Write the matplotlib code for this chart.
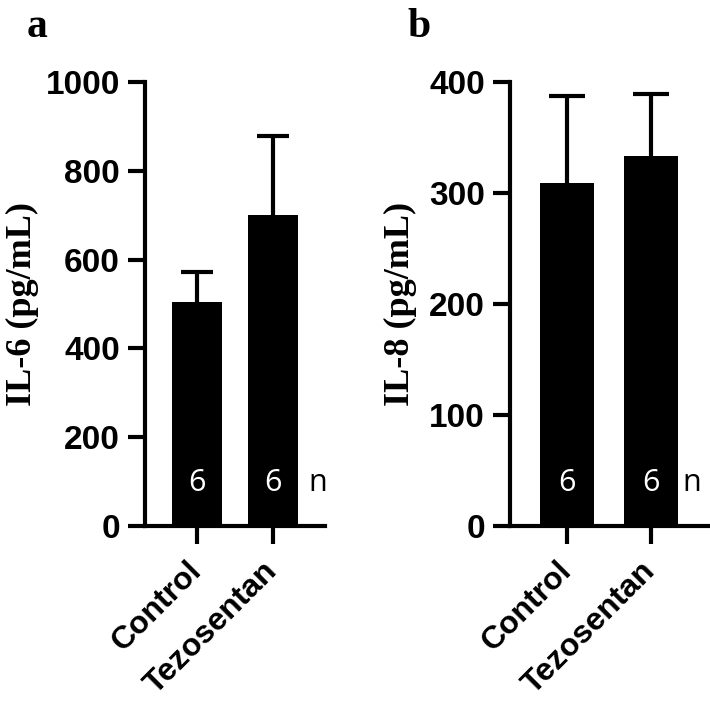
import matplotlib
matplotlib.use("Agg")
import matplotlib.pyplot as plt
import matplotlib.transforms as mtransforms

groups = ["Control", "Tezosentan"]
il6_mean = [505, 701]
il6_sem = [68, 178]
il8_mean = [309, 333]
il8_sem = [78, 56]
n_per_group = [6, 6]

panels = [
    dict(letter="a", ylabel="IL-6 (pg/mL)", mean=il6_mean, err=il6_sem,
         ymax=1000, ystep=200, rect=[0.2042, 0.2654, 0.2535, 0.620],
         label_x=-0.59, n_x=0.961, letter_x=27),
    dict(letter="b", ylabel="IL-8 (pg/mL)", mean=il8_mean, err=il8_sem,
         ymax=400, ystep=100, rect=[0.7183, 0.2654, 0.2789, 0.620],
         label_x=-0.47, n_x=0.919, letter_x=407),
]

fig = plt.figure(figsize=(7.1, 7.16), dpi=100)

for p in panels:
    ax = fig.add_axes(p["rect"])
    x = list(range(len(groups)))
    ax.bar(x, p["mean"], width=0.65, color="black", zorder=2)
    # upper error only: stem + cap
    tops = [m + e for m, e in zip(p["mean"], p["err"])]
    ax.vlines(x, p["mean"], tops, color="black", linewidth=3, zorder=1)
    ax.errorbar(x, tops, xerr=0.21, fmt="none", ecolor="black",
                elinewidth=3, capsize=0, zorder=1)
    ax.set_xlim(-0.68, 1.68)
    ax.set_ylim(0, p["ymax"])
    ax.set_yticks(range(0, p["ymax"] + 1, p["ystep"]))
    ax.set_xticks(x)
    ax.set_xticklabels(groups, rotation=45, ha="right", va="center",
                       rotation_mode="anchor", fontsize=23, fontweight="bold",
                       family="Liberation Sans")
    for lab in ax.get_yticklabels():
        lab.set_fontsize(24)
        lab.set_fontweight("bold")
        lab.set_family("Liberation Sans")
    ax.tick_params(axis="y", length=12, width=3, pad=6)
    ax.tick_params(axis="x", length=13, width=3, pad=16)
    for side in ["top", "right"]:
        ax.spines[side].set_visible(False)
    for side in ["left", "bottom"]:
        ax.spines[side].set_linewidth(3)
    ax.set_ylabel(p["ylabel"], fontsize=26, fontweight="bold",
                  family="Liberation Serif")
    ax.yaxis.set_label_coords(p["label_x"], 0.5)

    trans = mtransforms.blended_transform_factory(ax.transData, ax.transAxes)
    for xi, n in zip(x, n_per_group):
        ax.text(xi, 0.097, str(n), transform=trans, color="white", fontsize=22,
                ha="center", va="center", family="Open Sans", zorder=3)
    ax.text(p["n_x"], 0.097, "n", transform=ax.transAxes, fontsize=22,
            ha="center", va="center", family="Open Sans")

    fig.text(p["letter_x"] / 710, 1 - 37 / 716, p["letter"], fontsize=30,
             fontweight="bold", family="Liberation Serif", va="baseline")

fig.savefig("out.png", dpi=100)
